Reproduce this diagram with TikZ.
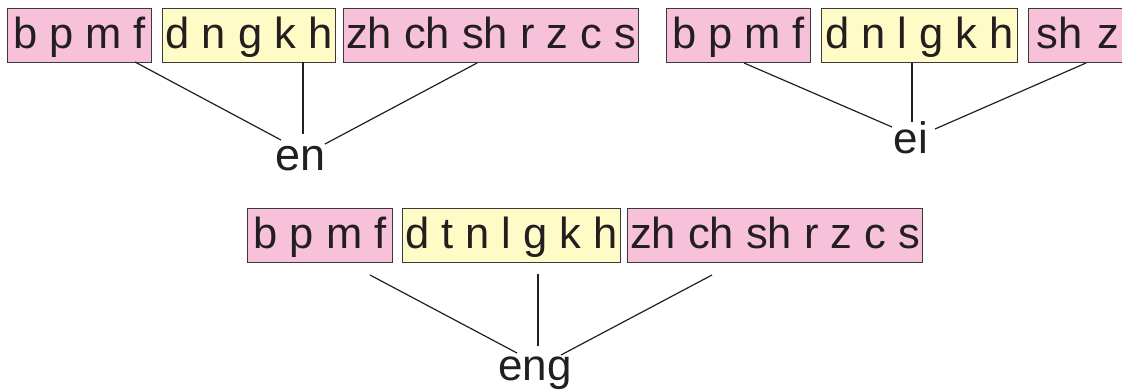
\documentclass[tikz,border=0pt]{standalone}
\usepackage{fontspec}
\setmainfont{Liberation Sans}
\definecolor{boxpink}{HTML}{F7C1D9}
\definecolor{boxyellow}{HTML}{FFFBC6}
\definecolor{edgegrey}{HTML}{3A3A3A}
\definecolor{inkdark}{HTML}{231F20}
\begin{document}
\begin{tikzpicture}[x=1pt,y=-1pt,
  box/.style={draw=edgegrey, line width=1.2pt, anchor=north west, inner xsep=0pt, inner ysep=7.5pt,
    minimum height=54pt, text height=32pt, text depth=7pt, text=inkdark,
    font=\fontsize{43.5}{50}\selectfont},
  pinkbox/.style={box, fill=boxpink},
  yellowbox/.style={box, fill=boxyellow},
  final/.style={anchor=base, inner sep=0pt, text=inkdark, font=\fontsize{44}{50}\selectfont},
  link/.style={draw=inkdark, line width=1.2pt}]
\useasboundingbox (0,0) rectangle (1122,389);
\clip (0,0) rectangle (1122,389);
% top-left group
\node[pinkbox, minimum width=144pt] (a1) at (7,8) {b p m f};
\node[yellowbox, minimum width=173pt] (a2) at (162,8) {d n g k h};
\node[pinkbox, minimum width=295pt] (a3) at (343,8) {zh ch sh r z c s};
\node[final, font=\fontsize{45}{50}\selectfont] (en) at (301,170) {en};
\coordinate (a1s) at (135,62);
\coordinate (a2s) at (303,62);
\coordinate (a3s) at (477,63);
\coordinate (en1) at (281,140);
\coordinate (en2) at (303,134);
\coordinate (en3) at (325,144);
\draw[link] (a1s) -- (en1);
\draw[link] (a2s) -- (en2);
\draw[link] (a3s) -- (en3);
% top-right group
\node[pinkbox, minimum width=144pt] (b1) at (666,8) {b p m f};
\node[yellowbox, minimum width=196pt] (b2) at (821,8) {d n l g k h};
\node[pinkbox, minimum width=110pt, text width=94pt, align=left, inner xsep=8pt] (b3) at (1028,8) {sh z};
\node[final] (ei) at (911,153) {ei};
\coordinate (b1s) at (744,63);
\coordinate (b2s) at (912,63);
\coordinate (b3s) at (1086,63);
\coordinate (ei1) at (892,127);
\coordinate (ei2) at (912,122);
\coordinate (ei3) at (935,129);
\draw[link] (b1s) -- (ei1);
\draw[link] (b2s) -- (ei2);
\draw[link] (b3s) -- (ei3);
% bottom group
\node[pinkbox, minimum width=145pt] (c1) at (247,208) {b p m f};
\node[yellowbox, minimum width=218pt] (c2) at (402,208) {d t n l g k h};
\node[pinkbox, minimum width=295pt] (c3) at (627,208) {zh ch sh r z c s};
\node[final] (eng) at (535,380) {eng};
\coordinate (c1s) at (370,275);
\coordinate (c2s) at (538,274);
\coordinate (c3s) at (712,275);
\coordinate (eng1) at (517,353);
\coordinate (eng2) at (538,346);
\coordinate (eng3) at (561,355);
\draw[link] (c1s) -- (eng1);
\draw[link] (c2s) -- (eng2);
\draw[link] (c3s) -- (eng3);
\end{tikzpicture}
\end{document}
